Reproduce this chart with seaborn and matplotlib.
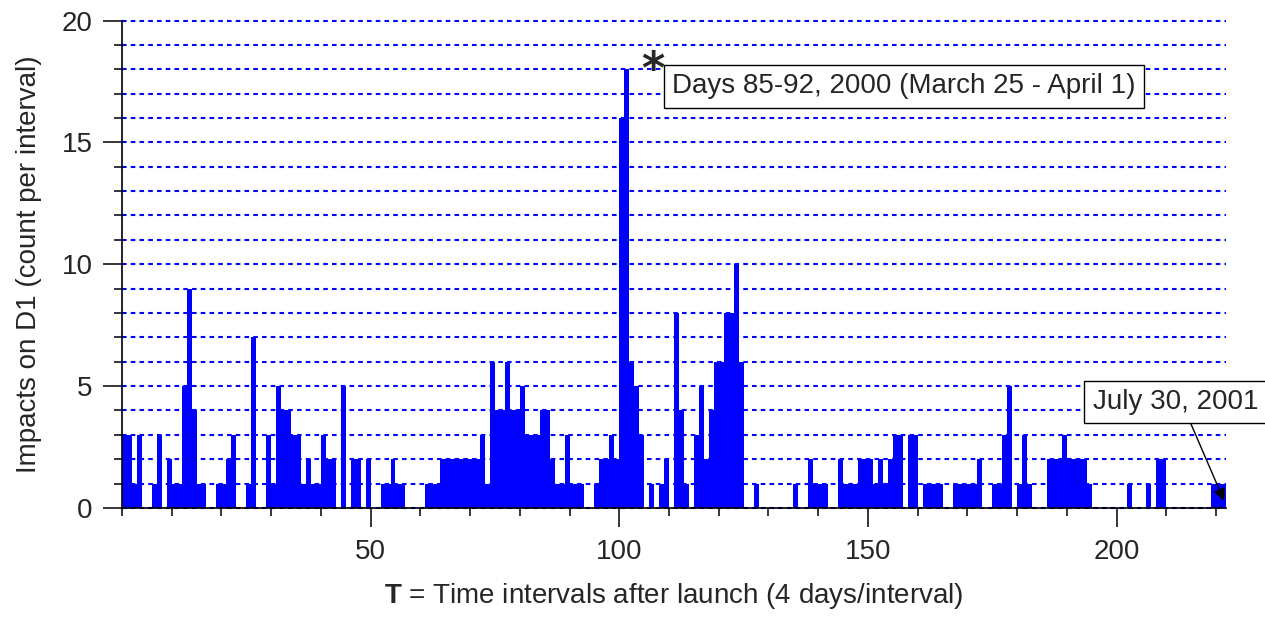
import numpy as np
import pandas as pd
import matplotlib
matplotlib.use('Agg')
import matplotlib.pyplot as plt
from matplotlib.ticker import MultipleLocator
import seaborn as sns

# impacts on D1, one value per 4-day interval after launch
counts = [
    3, 3, 1, 3, 0, 0, 1, 3, 0, 2,
    1, 1, 5, 9, 4, 1, 1, 0, 0, 1,
    1, 2, 3, 0, 0, 1, 7, 0, 0, 3,
    1, 5, 4, 4, 3, 3, 1, 2, 1, 1,
    3, 2, 2, 0, 5, 0, 2, 2, 0, 2,
    0, 0, 1, 1, 2, 1, 1, 0, 0, 0,
    0, 1, 1, 1, 2, 2, 2, 2, 2, 2,
    2, 2, 3, 1, 6, 4, 4, 6, 4, 4,
    5, 3, 3, 3, 4, 4, 2, 1, 1, 3,
    1, 1, 1, 0, 0, 1, 2, 2, 3, 2,
    16, 18, 6, 5, 3, 0, 1, 0, 1, 2,
    0, 8, 4, 1, 0, 3, 5, 2, 4, 6,
    6, 8, 8, 10, 6, 0, 0, 1, 0, 0,
    0, 0, 0, 0, 0, 1, 0, 0, 2, 1,
    1, 1, 0, 0, 2, 1, 1, 1, 2, 2,
    2, 1, 2, 1, 2, 3, 3, 0, 3, 3,
    0, 1, 1, 1, 1, 0, 0, 1, 1, 1,
    1, 1, 2, 0, 0, 1, 1, 3, 5, 0,
    1, 3, 1, 0, 0, 0, 2, 2, 2, 3,
    2, 2, 2, 2, 1, 0, 0, 0, 0, 0,
    0, 0, 1, 0, 0, 0, 1, 0, 2, 2,
    0, 0, 0, 0, 0, 0, 0, 0, 0, 1,
    1, 1,
]
intervals = np.arange(1, len(counts) + 1)

peak_label = "Days 85-92, 2000 (March 25 - April 1)"
end_label = "July 30, 2001"
x_label = r"$\mathbf{T}$ = Time intervals after launch (4 days/interval)"
y_label = "Impacts on D1 (count per interval)"

df = pd.DataFrame({'mid': intervals - 0.5, 'count': counts})

sns.set_style('ticks')
FONT = ['Liberation Sans', 'DejaVu Sans']
plt.rcParams['font.family'] = FONT
plt.rcParams['mathtext.fontset'] = 'custom'
plt.rcParams['mathtext.rm'] = 'Liberation Sans'
plt.rcParams['mathtext.bf'] = 'Liberation Sans:bold'

fig = plt.figure(figsize=(12.65, 6.27), dpi=100)
ax = fig.add_axes([0.0964, 0.1898, 0.8728, 0.7775])

sns.histplot(data=df, x='mid', weights='count', binwidth=1, binrange=(0, len(counts)),
             color='#0000ff', alpha=1, linewidth=0, ax=ax)

ax.set_xlim(0, len(counts))
ax.set_ylim(0, 20)
ax.xaxis.set_major_locator(MultipleLocator(50))
ax.xaxis.set_minor_locator(MultipleLocator(10))
ax.yaxis.set_major_locator(MultipleLocator(5))
ax.yaxis.set_minor_locator(MultipleLocator(1))
ax.set_xticks([50, 100, 150, 200])

ax.tick_params(which='major', length=14, width=1.1, direction='out', labelsize=20, pad=8, color='black')
ax.tick_params(which='minor', length=6, width=1.1, direction='out', color='black')
ax.tick_params(axis='y', which='major', pad=7)

ax.set_axisbelow(True)
ax.yaxis.grid(True, which='both', color='#0000ff', linestyle=(0, (2.2, 2.0)), linewidth=1.5)
ax.xaxis.grid(False)
# keep the top gridline (y = 20) fully visible
for t in ax.yaxis.get_major_ticks() + ax.yaxis.get_minor_ticks():
    t.gridline.set_clip_on(False)

sns.despine(ax=ax)
for s in ['left', 'bottom']:
    ax.spines[s].set_linewidth(1.2)
    ax.spines[s].set_color('black')

ax.set_xlabel(x_label, fontsize=20, labelpad=12)
ax.set_ylabel(y_label, fontsize=20, labelpad=14)

# peak annotation
ax.text(106.8, 17.95, '*', fontsize=32, fontweight='bold', ha='center', va='center',
        family='DejaVu Sans')
ax.text(110.6, 17.3, peak_label, fontsize=20, ha='left', va='center',
        bbox=dict(boxstyle='square,pad=0.3', facecolor='white', edgecolor='black', linewidth=1))

ax.annotate(end_label, xy=(221.6, 0.3), xytext=(195.2, 4.35), fontsize=20, ha='left', va='center',
            bbox=dict(boxstyle='square,pad=0.3', facecolor='white', edgecolor='black', linewidth=1),
            arrowprops=dict(arrowstyle='-|>', color='black', lw=1, shrinkA=0, shrinkB=0,
                            relpos=(0.57, 0), mutation_scale=18),
            annotation_clip=False)

plt.savefig('out.png', dpi=100)
